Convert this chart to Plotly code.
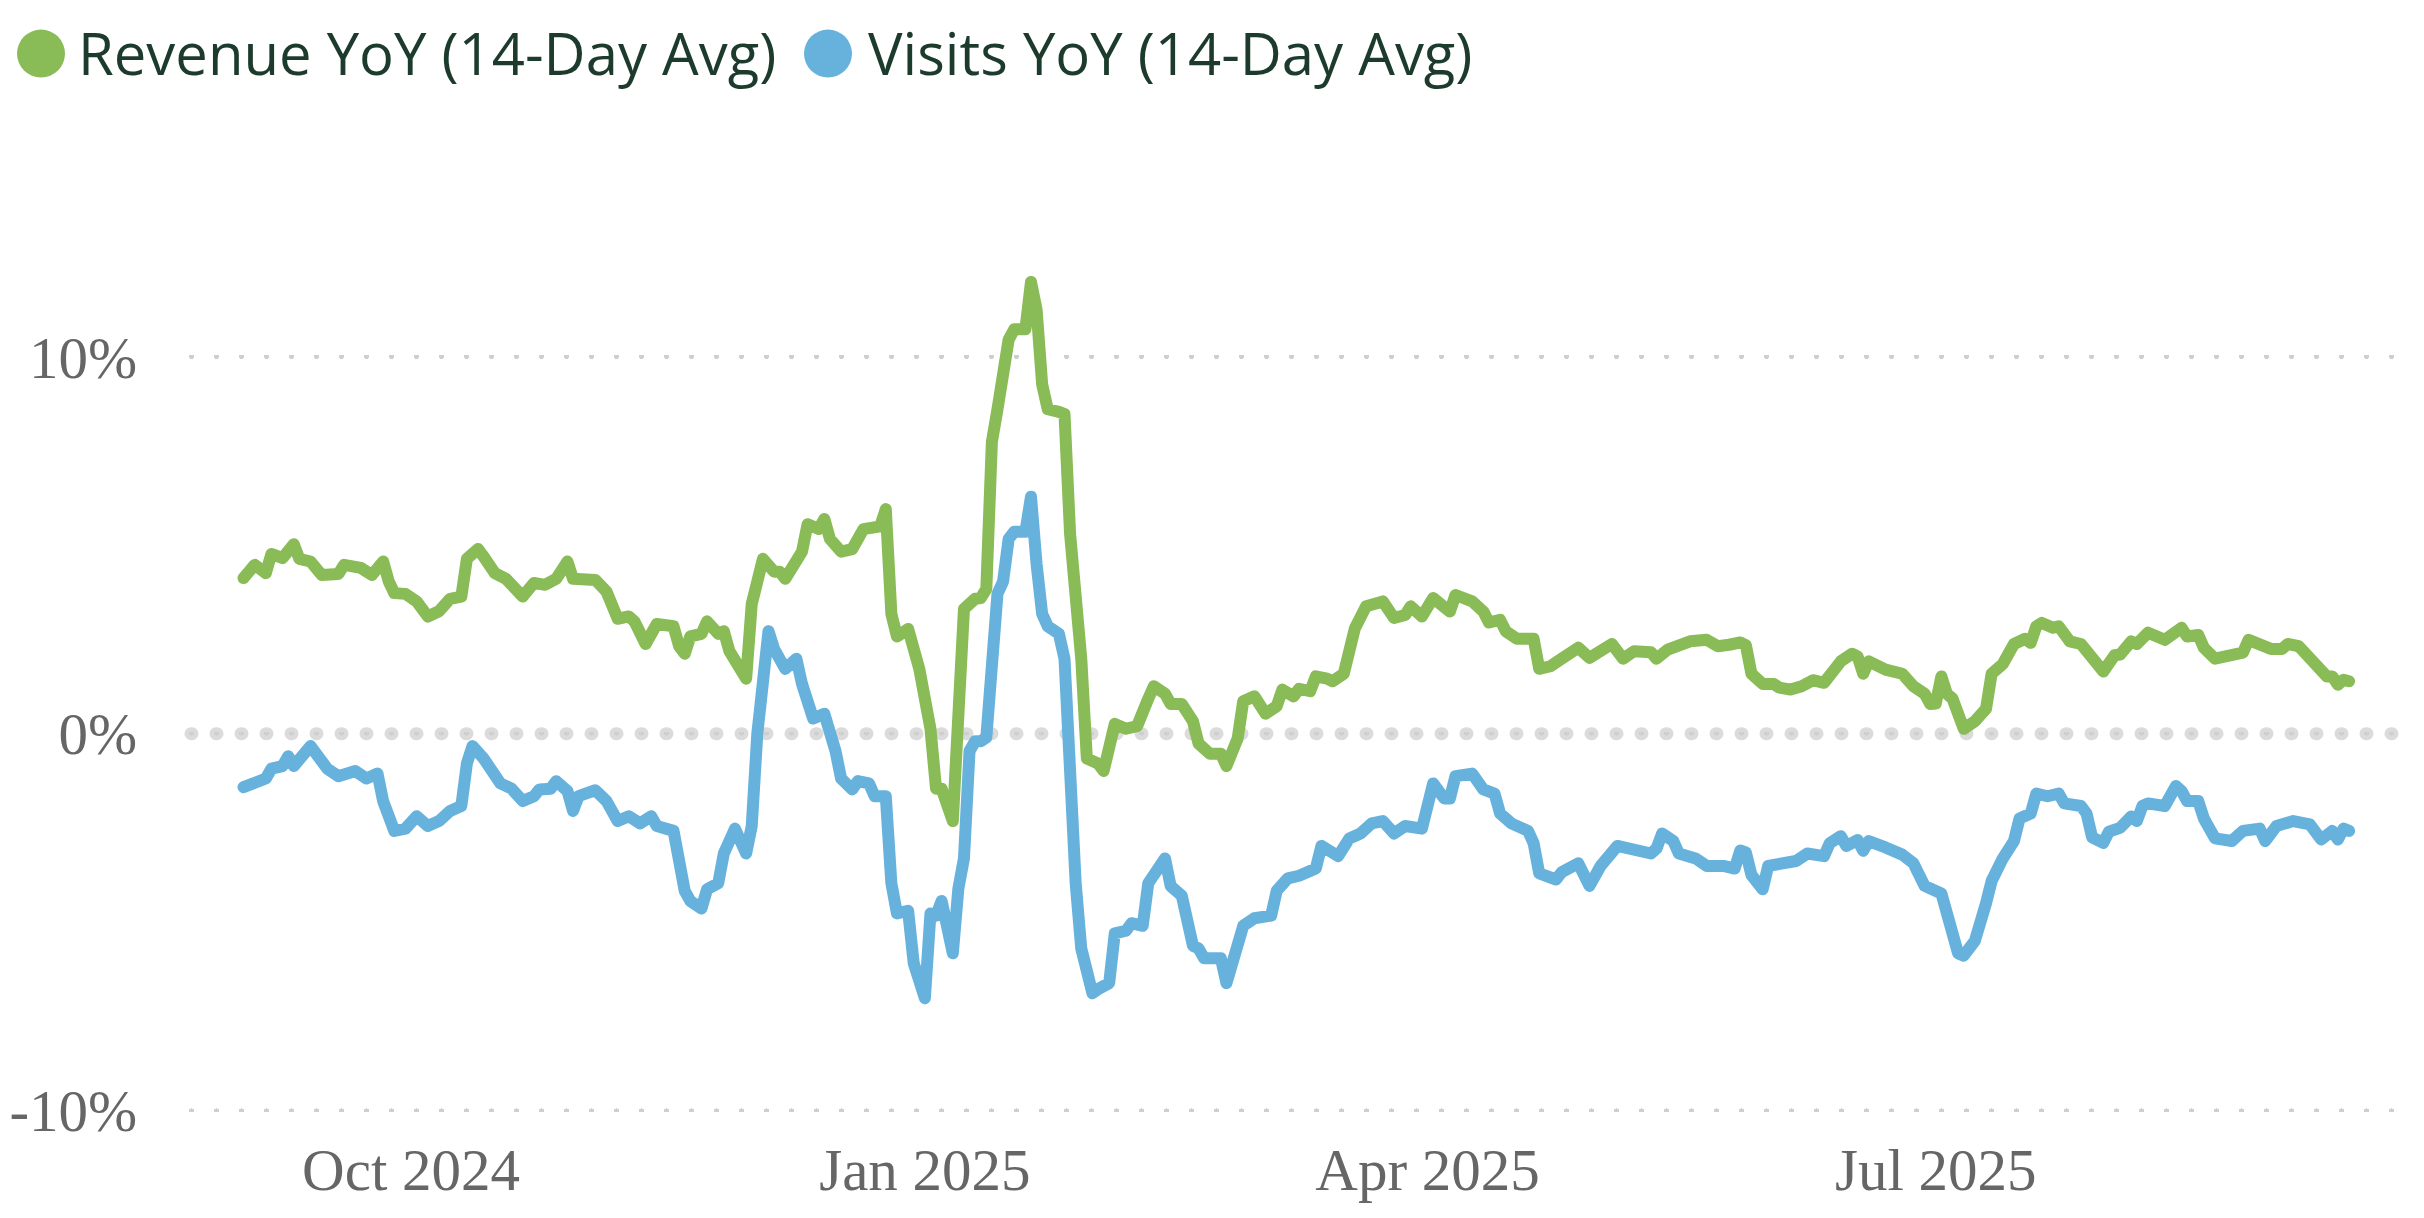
import pandas as pd
import plotly.graph_objects as go

# ---------------- data ----------------
START = "2024-09-01"  # day 0 of the day offsets below

series_names = ["Revenue YoY (14-Day Avg)", "Visits YoY (14-Day Avg)"]
series_colors = ["#89BB56", "#67B2DD"]

rev_day = [0, 2, 4, 5, 7, 9, 10, 12, 14, 17, 18, 21, 23, 25, 26, 27, 29, 31, 33, 35,
           37, 39, 40, 42, 43, 45, 47, 49, 50, 52, 54, 56, 58, 59, 62, 63, 65, 66, 67, 69,
           70, 72, 74, 77, 78, 79, 80, 82, 83, 85, 86, 87, 88, 90, 91, 93, 95, 96, 97, 99,
           100, 101, 103, 104, 105, 107, 109, 111, 114, 115, 116, 117, 119, 121, 123, 124, 125, 127, 128, 129,
           131, 132, 133, 134, 135, 137, 138, 140, 141, 142, 143, 144, 146, 147, 148, 150, 151, 153, 154, 156,
           158, 160, 162, 163, 165, 166, 168, 170, 171, 173, 175, 176, 178, 179, 181, 183, 185, 186, 188, 189,
           191, 192, 194, 195, 197, 198, 199, 201, 204, 206, 208, 209, 211, 213, 216, 217, 220, 222, 223, 225,
           226, 228, 231, 232, 234, 236, 239, 241, 243, 245, 247, 249, 252, 253, 255, 257, 259, 262, 264, 266,
           268, 269, 270, 272, 274, 275, 277, 279, 281, 283, 286, 288, 289, 290, 291, 294, 297, 299, 301, 302,
           303, 304, 305, 306, 307, 308, 310, 312, 313, 315, 317, 319, 320, 321, 322, 324, 325, 327, 329, 330,
           331, 333, 335, 336, 338, 339, 341, 343, 344, 347, 348, 350, 351, 353, 354, 356, 358, 359, 361, 363,
           365, 366, 368, 370, 371, 373, 374, 375, 376, 377]
rev_yoy = [4.13, 4.48, 4.26, 4.77, 4.66, 5.03, 4.64, 4.57, 4.21, 4.24, 4.48, 4.40, 4.21, 4.57, 4.04, 3.73, 3.71, 3.51, 3.11, 3.25,
           3.58, 3.64, 4.64, 4.90, 4.70, 4.26, 4.11, 3.84, 3.64, 4.00, 3.95, 4.11, 4.57, 4.11, 4.04, 4.08, 3.77, 3.38, 3.05, 3.11,
           2.98, 2.38, 2.91, 2.85, 2.32, 2.12, 2.58, 2.65, 2.98, 2.65, 2.72, 2.19, 1.99, 1.46, 3.44, 4.64, 4.30, 4.30, 4.11, 4.64,
           4.83, 5.56, 5.43, 5.70, 5.17, 4.83, 4.90, 5.43, 5.50, 5.96, 3.18, 2.58, 2.78, 1.72, 0.13, -1.46, -1.46, -2.32, 0.53, 3.31,
           3.58, 3.60, 3.84, 7.75, 8.61, 10.46, 10.73, 10.73, 11.99, 11.26, 9.27, 8.61, 8.54, 8.48, 5.30, 1.99, -0.66, -0.79, -0.99, 0.26,
           0.13, 0.20, 0.93, 1.26, 1.06, 0.79, 0.79, 0.33, -0.26, -0.53, -0.53, -0.86, -0.13, 0.86, 0.99, 0.53, 0.73, 1.17, 0.99, 1.19,
           1.13, 1.52, 1.46, 1.39, 1.59, 2.38, 2.80, 3.38, 3.51, 3.07, 3.15, 3.38, 3.11, 3.60, 3.24, 3.68, 3.51, 3.24, 2.95, 3.02,
           2.72, 2.52, 2.52, 1.72, 1.79, 1.99, 2.28, 2.01, 2.19, 2.38, 1.99, 2.19, 2.16, 1.99, 2.23, 2.32, 2.45, 2.49, 2.32, 2.36,
           2.42, 2.35, 1.59, 1.32, 1.32, 1.22, 1.17, 1.26, 1.42, 1.35, 1.92, 2.12, 2.05, 1.59, 1.92, 1.70, 1.59, 1.26, 1.06, 0.79,
           0.80, 1.52, 1.06, 0.93, 0.40, 0.13, 0.33, 0.66, 1.59, 1.85, 2.38, 2.52, 2.41, 2.85, 2.94, 2.81, 2.85, 2.45, 2.38, 2.19,
           1.99, 1.65, 2.08, 2.10, 2.45, 2.38, 2.68, 2.56, 2.49, 2.81, 2.58, 2.62, 2.28, 1.99, 2.03, 2.05, 2.15, 2.49, 2.38, 2.25,
           2.25, 2.38, 2.32, 1.99, 1.92, 1.52, 1.52, 1.30, 1.43, 1.39]

vis_day = [0, 2, 4, 5, 7, 8, 9, 12, 14, 15, 17, 20, 22, 24, 25, 27, 29, 30, 31, 33,
           35, 37, 39, 40, 41, 43, 44, 46, 48, 50, 52, 53, 55, 56, 58, 59, 60, 63, 65, 67,
           69, 71, 73, 74, 77, 79, 80, 82, 83, 85, 86, 88, 90, 91, 92, 94, 95, 97, 99, 100,
           102, 104, 106, 107, 109, 110, 112, 113, 115, 116, 117, 119, 120, 122, 123, 124, 125, 127, 128, 129,
           130, 131, 132, 133, 135, 136, 137, 138, 140, 141, 142, 143, 144, 146, 147, 148, 149, 150, 152, 153,
           155, 156, 158, 159, 161, 162, 165, 166, 168, 170, 171, 172, 175, 176, 178, 179, 181, 184, 185, 187,
           189, 191, 192, 193, 194, 196, 198, 200, 202, 204, 206, 208, 211, 213, 215, 216, 217, 220, 222, 224,
           225, 227, 230, 231, 232, 235, 236, 239, 241, 243, 246, 248, 252, 253, 254, 256, 257, 260, 262, 265,
           267, 268, 269, 270, 272, 273, 275, 278, 280, 283, 284, 286, 287, 289, 290, 291, 294, 297, 299, 301,
           304, 305, 306, 307, 308, 310, 312, 313, 315, 317, 318, 320, 321, 323, 325, 326, 329, 330, 331, 333,
           334, 336, 338, 339, 340, 341, 344, 345, 346, 347, 348, 350, 351, 353, 356, 358, 361, 362, 364, 367,
           370, 372, 374, 375, 376, 377]
vis_yoy = [-1.42, -1.26, -1.19, -0.93, -0.86, -0.60, -0.86, -0.33, -0.79, -0.93, -1.13, -0.99, -1.19, -1.06, -1.79, -2.58, -2.52, -2.32, -2.19, -2.45,
           -2.32, -2.05, -1.92, -0.79, -0.33, -0.66, -0.93, -1.32, -1.46, -1.79, -1.66, -1.48, -1.46, -1.26, -1.52, -2.05, -1.66, -1.50, -1.79, -2.32,
           -2.19, -2.38, -2.19, -2.45, -2.58, -4.17, -4.44, -4.64, -4.13, -3.97, -3.18, -2.52, -3.18, -2.45, 0.00, 2.72, 2.25, 1.72, 1.99, 1.32,
           0.40, 0.53, -0.46, -1.19, -1.48, -1.26, -1.32, -1.66, -1.66, -3.97, -4.77, -4.70, -6.09, -7.02, -4.77, -4.83, -4.44, -5.83, -4.11, -3.31,
           -0.46, -0.20, -0.20, -0.10, 3.71, 4.04, 5.17, 5.36, 5.36, 6.29, 4.50, 3.18, 2.85, 2.65, 1.99, -1.99, -3.97, -5.70, -6.89, -6.78,
           -6.62, -5.30, -5.23, -5.03, -5.10, -3.97, -3.31, -4.04, -4.30, -5.63, -5.70, -5.96, -5.96, -6.62, -5.76, -5.10, -4.90, -4.83, -4.17, -3.84,
           -3.77, -3.64, -3.58, -2.98, -3.05, -3.25, -2.78, -2.65, -2.38, -2.32, -2.65, -2.45, -2.52, -1.32, -1.72, -1.72, -1.13, -1.06, -1.48, -1.59,
           -2.12, -2.38, -2.58, -2.91, -3.71, -3.87, -3.68, -3.44, -4.04, -3.51, -2.98, -3.05, -3.18, -3.05, -2.65, -2.85, -3.18, -3.31, -3.51, -3.51,
           -3.58, -3.10, -3.15, -3.75, -4.13, -3.51, -3.48, -3.38, -3.18, -3.25, -2.91, -2.72, -2.98, -2.82, -3.11, -2.85, -3.02, -3.21, -3.44, -4.04,
           -4.24, -4.70, -5.17, -5.83, -5.89, -5.50, -4.50, -3.91, -3.31, -2.85, -2.25, -2.12, -1.59, -1.66, -1.59, -1.85, -1.92, -2.12, -2.75, -2.90,
           -2.60, -2.50, -2.20, -2.32, -1.92, -1.85, -1.92, -1.72, -1.39, -1.52, -1.79, -1.79, -2.25, -2.78, -2.85, -2.58, -2.52, -2.85, -2.45, -2.32,
           -2.41, -2.81, -2.58, -2.81, -2.52, -2.58]

y_tickvals = [-10, 0, 10]
y_ticktext = ["-10%", "0%", "10%"]
x_tick0 = "2024-10-01"
x_dtick = "M3"
x_tickformat = "%b %Y"


def to_dates(days):
    return pd.Timestamp(START) + pd.to_timedelta(days, unit="D")


# ---------------- layout geometry (pixels) ----------------
W, H = 2424, 1218
ML, MR, MT, MB = 191, 23, 224.5, 88
PX_PER_PCT = 37.7
Y_TOP = 13.5
plot_h = H - MT - MB
plot_w = W - ML - MR
y_range = [Y_TOP - plot_h / PX_PER_PCT, Y_TOP]
x_range = [pd.Timestamp(START) + pd.Timedelta(days=-9.4),
           pd.Timestamp(START) + pd.Timedelta(days=386.3)]


def px_x(px):
    return (px - ML) / plot_w


def px_y(py):
    return (H - MB - py) / plot_h


fig = go.Figure()
for name, days, vals, col in [(series_names[0], rev_day, rev_yoy, series_colors[0]),
                              (series_names[1], vis_day, vis_yoy, series_colors[1])]:
    fig.add_trace(go.Scatter(x=to_dates(days), y=vals, mode="lines", name=name,
                             line=dict(color=col, width=12), showlegend=False,
                             hoverinfo="x+y"))

# zero line (big dots) drawn between grid and traces
fig.add_shape(type="line", xref="paper", yref="y", x0=0, x1=1, y0=0, y1=0,
              line=dict(color="rgba(0,0,0,0.14)", width=13, dash="1px,24px"),
              layer="between")

# legend built from circles + text
legend_items = [(41, 77), (828, 867)]
for (cx, tx), name, col in zip(legend_items, series_names, series_colors):
    fig.add_shape(type="circle", xref="paper", yref="paper",
                  xsizemode="pixel", ysizemode="pixel",
                  xanchor=px_x(cx), yanchor=px_y(53),
                  x0=-24, x1=24, y0=-24, y1=24,
                  fillcolor=col, line=dict(width=0))
    fig.add_annotation(x=px_x(tx), y=px_y(51.5), xref="paper", yref="paper",
                       xanchor="left", yanchor="middle", showarrow=False,
                       text=name, borderpad=0,
                       font=dict(family="Open Sans", size=58, color="#1d3b2d"))

fig.update_layout(
    width=W, height=H,
    margin=dict(l=ML, r=MR, t=MT, b=MB, pad=0),
    paper_bgcolor="white", plot_bgcolor="white",
    showlegend=False,
    xaxis=dict(range=x_range, tick0=x_tick0, dtick=x_dtick, tickformat=x_tickformat,
               showgrid=False, zeroline=False, showline=False, ticks="",
               automargin=False,
               tickfont=dict(family="Liberation Serif", size=59, color="#666666")),
    yaxis=dict(range=y_range, tickvals=y_tickvals, ticktext=y_ticktext,
               showgrid=True, gridcolor="#cfcfcf", gridwidth=4, griddash="1px,24px",
               zeroline=False, showline=False, automargin=False,
               ticks="outside", ticklen=41, tickcolor="rgba(0,0,0,0)",
               tickfont=dict(family="Liberation Serif", size=59, color="#666666")),
)

post = """
document.body.style.margin='0';
document.body.style.overflow='hidden';
var gd = document.getElementById('{plot_id}');
gd.querySelectorAll('path').forEach(function(p){
  var da = p.style.strokeDasharray;
  if (da && da !== 'none' && da !== '') { p.style.strokeLinecap = 'round'; }
});
gd.querySelectorAll('.scatterlayer .js-line').forEach(function(p){
  p.style.strokeLinecap = 'round'; p.style.strokeLinejoin = 'round';
});
"""
fig.write_html("out.html", post_script=post, config={"displayModeBar": False})
